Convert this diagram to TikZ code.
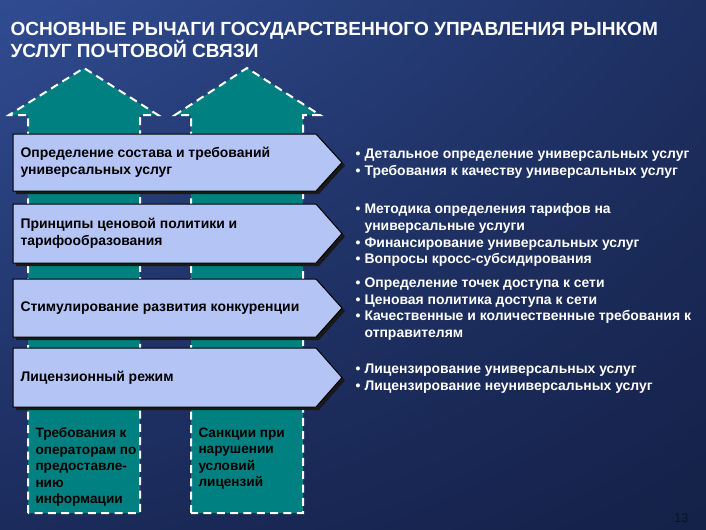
\documentclass[tikz,border=0pt]{standalone}
\usepackage{fontspec}
\setmainfont{Liberation Sans}
\usetikzlibrary{positioning,shadings}

\definecolor{tealarr}{RGB}{0,128,128}
\definecolor{chevfill}{RGB}{180,197,245}
\definecolor{bgUL}{RGB}{48,76,145}
\definecolor{bgUR}{RGB}{30,48,98}
\definecolor{bgLL}{RGB}{27,43,92}
\definecolor{bgLR}{RGB}{20,33,72}
\definecolor{pgnum}{RGB}{12,18,38}

\newcommand{\itm}[1]{\makebox[6.8pt][l]{\textbullet}#1}
\newcommand{\cont}{\hspace*{6.8pt}}

\tikzset{every picture/.style={line width=0.75pt}}
\tikzset{
  uparrow/.style={fill=tealarr, draw=white, line width=1.5, dash pattern={on 6pt off 4pt}},
  chevbox/.style={fill=chevfill, draw=black, line width=0.75},
  chevshadow/.style={fill=black!90, draw=none},
  boxtext/.style={anchor=west, inner sep=0pt, align=left, text=black,
    font=\fontsize{10.45}{12.6}\selectfont\bfseries},
  bulltext/.style={boxtext, text=white},
  subtext/.style={boxtext, anchor=north west, font=\fontsize{10.2}{12.4}\selectfont\bfseries},
}

\begin{document}
\begin{tikzpicture}[x=0.75pt,y=0.75pt,yscale=-1,xscale=1]
\useasboundingbox (0,0) rectangle (706,529);

%Shape: Background
\shade [upper left=bgUL, upper right=bgUR, lower left=bgLL, lower right=bgLR] (0,0) rectangle (706,529) ;

%Shape: Up Arrow [left]
\draw [uparrow] (28,513) -- (28,115) -- (9,115) -- (84,68) -- (158,115) -- (140,115) -- (140,513) -- cycle ;
%Shape: Up Arrow [right]
\draw [uparrow] (191,513) -- (191,115) -- (175,115) -- (247,68) -- (320,115) -- (303,115) -- (303,513) -- cycle ;

%Shape: Chevron 1
\fill [chevshadow] (16,137) -- (319,137) -- (345,165.5) -- (319,194) -- (16,194) -- cycle ;
\draw [chevbox] (13,134) -- (316,134) -- (342,162.5) -- (316,191) -- (13,191) -- cycle ;
%Shape: Chevron 2
\fill [chevshadow] (16,207) -- (319,207) -- (345,236.5) -- (319,266) -- (16,266) -- cycle ;
\draw [chevbox] (13,204) -- (316,204) -- (342,233.5) -- (316,263) -- (13,263) -- cycle ;
%Shape: Chevron 3
\fill [chevshadow] (16,282) -- (319,282) -- (345,311) -- (319,340) -- (16,340) -- cycle ;
\draw [chevbox] (13,279) -- (316,279) -- (342,308) -- (316,337) -- (13,337) -- cycle ;
%Shape: Chevron 4
\fill [chevshadow] (16,351) -- (319,351) -- (345,380.5) -- (319,410) -- (16,410) -- cycle ;
\draw [chevbox] (13,348) -- (316,348) -- (342,377.5) -- (316,407) -- (13,407) -- cycle ;

% Text Node
\draw (10,22) node [anchor=north west][inner sep=0pt][align=left][text=white][font=\fontsize{14.3}{16}\selectfont\bfseries] (title) {ОСНОВНЫЕ РЫЧАГИ ГОСУДАРСТВЕННОГО УПРАВЛЕНИЯ РЫНКОМ\\УСЛУГ ПОЧТОВОЙ СВЯЗИ};
% Text Node
\draw (20,162.5) node [boxtext] (lev1) {Определение состава и требований\\универсальных услуг};
% Text Node
\draw (20,233.5) node [boxtext] (lev2) {Принципы ценовой политики и\\тарифообразования};
% Text Node
\draw (20,308) node [boxtext] (lev3) {Стимулирование развития конкуренции};
% Text Node
\draw (20,377.5) node [boxtext] (lev4) {Лицензионный режим};
% Text Node
\draw (355,163.5) node [bulltext] (det1) {\itm{Детальное определение универсальных услуг}\\\itm{Требования к качеству универсальных услуг}};
% Text Node
\draw (355,235) node [bulltext] (det2) {\itm{Методика определения тарифов на}\\\cont универсальные услуги\\\itm{Финансирование универсальных услуг}\\\itm{Вопросы кросс-субсидирования}};
% Text Node
\draw (355,309) node [bulltext] (det3) {\itm{Определение точек доступа к сети}\\\itm{Ценовая политика доступа к сети}\\\itm{Качественные и количественные требования к}\\\cont отправителям};
% Text Node
\draw (355,378.5) node [bulltext] (det4) {\itm{Лицензирование универсальных услуг}\\\itm{Лицензирование неуниверсальных услуг}};
% Text Node
\draw (35,427) node [subtext] (req) {Требования к\\операторам по\\предоставле-\\нию\\информации};
% Text Node
\draw (198,427) node [subtext] (sanc) {Санкции при\\нарушении\\условий\\лицензий};
% Text Node
\draw (689,518) node [anchor=east][inner sep=0pt][text=pgnum][font=\fontsize{9.5}{10}\selectfont] (pg) {13};

\end{tikzpicture}
\end{document}
